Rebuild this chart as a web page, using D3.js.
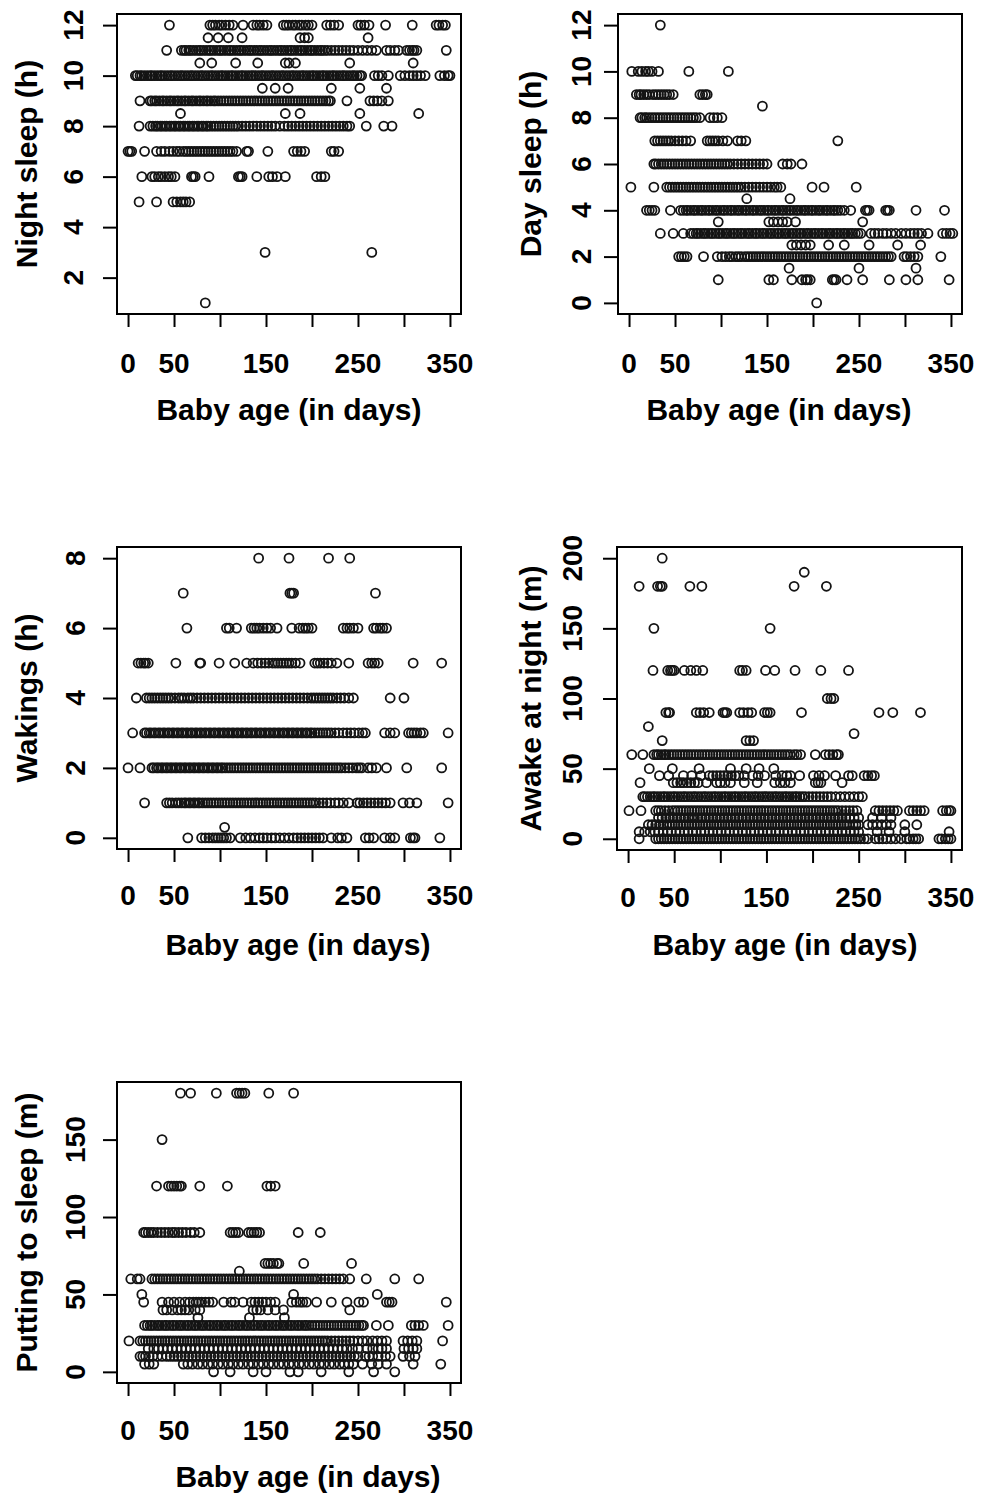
<!DOCTYPE html>
<html>
<head>
<meta charset="utf-8">
<script src="https://cdn.jsdelivr.net/npm/d3@7"></script>
<style>
  body { margin: 0; background: #fff; }
  svg { display: block; }
  text { font-family: "Liberation Sans", Arial, sans-serif; font-weight: bold; fill: #000; }
</style>
</head>
<body>
<svg id="chart" width="990" height="1493"></svg>
<script>
// x axis (shared by all five panels)
const ageTicks = [0, 50, 100, 150, 200, 250, 300, 350];
const ageLabels = [0, 50, 150, 250, 350];

const nightTicks = [2, 4, 6, 8, 10, 12];
const dayTicks = [0, 2, 4, 6, 8, 10, 12];
const wakingTicks = [0, 2, 4, 6, 8];
const awakeTicks = [0, 50, 100, 150, 200];
const puttingTicks = [0, 50, 100, 150];

// each row: [value, ages (days) of the babies that have that value]
const nightSleep = [
  [12, [45, 89, 92, 95, 99, 102, 106, 110, 114, 125, 136, 140, 143, 147, 151, 169, 172, 175, 179, 182, 186, 189, 193, 196, 200, 216, 220, 224, 229, 250, 253, 257, 262, 280, 309, 335, 338, 342, 345]],
  [11.5, [87, 98, 109, 124, 187, 192, 196, 261]],
  [11, [42, 58, 61, 63, 66, 68, 71, 74, 77, 79, 82, 85, 88, 90, 93, 96, 99, 101, 104, 107, 110, 112, 115, 118, 121, 123, 126, 129, 132, 134, 137, 140, 143, 145, 148, 151, 154, 156, 159, 162, 165, 167, 170, 173, 176, 178, 181, 184, 187, 189, 192, 195, 198, 200, 203, 206, 209, 211, 214, 217, 221, 225, 229, 233, 237, 241, 245, 250, 255, 260, 265, 270, 281, 285, 290, 294, 303, 306, 309, 311, 314, 346]],
  [10.5, [78, 91, 117, 141, 171, 175, 182, 241, 310]],
  [10, [8, 10, 13, 15, 18, 21, 24, 26, 29, 32, 35, 37, 40, 43, 46, 48, 51, 54, 57, 59, 62, 65, 68, 70, 73, 76, 79, 81, 84, 87, 90, 92, 95, 98, 101, 103, 106, 109, 112, 114, 117, 120, 123, 125, 128, 131, 134, 136, 139, 142, 145, 147, 150, 153, 156, 158, 161, 164, 167, 169, 172, 175, 178, 180, 183, 186, 189, 191, 194, 197, 200, 202, 205, 208, 211, 213, 216, 219, 222, 224, 227, 230, 233, 235, 238, 241, 244, 246, 249, 252, 254, 268, 272, 276, 283, 296, 301, 306, 310, 314, 318, 323, 339, 344, 348, 350]],
  [9.5, [146, 160, 174, 221, 252, 281]],
  [9, [13, 24, 26, 29, 31, 34, 37, 39, 42, 45, 47, 50, 53, 55, 58, 61, 63, 66, 69, 71, 74, 77, 79, 82, 85, 87, 90, 93, 95, 98, 101, 104, 107, 110, 113, 116, 119, 122, 125, 128, 131, 134, 137, 140, 143, 146, 149, 152, 155, 158, 161, 164, 167, 170, 173, 176, 179, 182, 185, 188, 191, 194, 197, 200, 203, 206, 209, 212, 215, 218, 220, 238, 263, 267, 271, 276, 283]],
  [8.5, [57, 171, 187, 252, 316]],
  [8, [12, 24, 27, 30, 32, 35, 37, 40, 42, 45, 47, 50, 52, 55, 57, 60, 62, 65, 67, 70, 72, 75, 77, 80, 82, 85, 87, 90, 93, 96, 99, 102, 105, 108, 111, 114, 117, 120, 124, 128, 132, 136, 140, 144, 148, 152, 156, 160, 165, 170, 174, 178, 182, 186, 190, 194, 198, 202, 206, 210, 214, 218, 222, 226, 230, 234, 238, 241, 259, 278, 287]],
  [7, [0, 2, 4, 18, 31, 36, 40, 45, 49, 53, 56, 60, 63, 66, 69, 72, 75, 78, 81, 84, 87, 90, 93, 96, 99, 102, 105, 108, 111, 114, 118, 129, 131, 152, 180, 184, 188, 192, 221, 224, 229]],
  [6, [15, 26, 29, 33, 36, 40, 44, 47, 51, 69, 71, 73, 88, 120, 122, 124, 140, 153, 157, 162, 171, 205, 210, 214]],
  [5, [12, 31, 49, 53, 57, 60, 63, 67]],
  [3, [149, 265]],
  [1, [84]]
];

const daySleep = [
  [12, [34]],
  [10, [3, 10, 14, 18, 21, 25, 32, 65, 108]],
  [9, [8, 11, 13, 16, 19, 22, 26, 29, 32, 35, 38, 41, 44, 48, 77, 80, 83, 85]],
  [8.5, [145]],
  [8, [12, 14, 17, 19, 22, 25, 28, 31, 34, 37, 40, 43, 46, 49, 52, 55, 58, 61, 64, 67, 70, 73, 77, 88, 92, 96, 101]],
  [7, [28, 31, 34, 37, 40, 43, 46, 50, 54, 58, 62, 67, 85, 88, 91, 94, 97, 102, 107, 118, 122, 127, 227]],
  [6, [27, 29, 32, 35, 38, 41, 44, 47, 50, 53, 56, 59, 62, 65, 68, 71, 74, 77, 80, 83, 86, 89, 92, 95, 98, 101, 104, 107, 110, 114, 118, 122, 126, 130, 134, 138, 142, 146, 150, 167, 172, 176, 188]],
  [5, [2, 27, 41, 44, 47, 50, 53, 56, 59, 62, 65, 68, 71, 74, 77, 80, 83, 86, 89, 92, 95, 98, 101, 104, 107, 110, 113, 116, 119, 122, 126, 130, 134, 138, 142, 146, 150, 154, 158, 161, 165, 199, 212, 247]],
  [4.5, [128, 175]],
  [4, [19, 22, 25, 28, 45, 56, 59, 62, 64, 67, 70, 72, 75, 78, 80, 83, 86, 88, 91, 94, 96, 99, 102, 104, 107, 110, 112, 115, 118, 120, 123, 126, 128, 131, 134, 136, 139, 142, 144, 147, 150, 152, 155, 158, 160, 163, 166, 168, 171, 174, 176, 179, 182, 184, 187, 190, 192, 195, 198, 200, 203, 206, 208, 211, 214, 216, 219, 222, 224, 227, 230, 234, 241, 257, 259, 261, 279, 281, 283, 312, 343]],
  [3.5, [97, 152, 157, 162, 167, 172, 181, 254]],
  [3, [34, 48, 59, 67, 70, 73, 75, 78, 81, 83, 86, 89, 91, 94, 97, 99, 102, 105, 107, 110, 113, 115, 118, 121, 123, 126, 129, 131, 134, 137, 139, 142, 145, 147, 150, 153, 155, 158, 161, 163, 166, 169, 171, 174, 177, 179, 182, 185, 187, 190, 193, 195, 198, 201, 203, 206, 209, 211, 214, 217, 219, 222, 225, 227, 230, 233, 235, 238, 241, 243, 246, 249, 252, 263, 267, 271, 276, 280, 285, 290, 296, 301, 306, 310, 314, 318, 325, 341, 345, 349, 352]],
  [2.5, [177, 182, 187, 192, 197, 217, 234, 261, 292, 317]],
  [2, [54, 57, 60, 63, 81, 96, 101, 105, 109, 112, 116, 119, 122, 126, 129, 132, 135, 138, 141, 144, 147, 150, 153, 156, 159, 162, 165, 168, 171, 174, 177, 180, 183, 186, 189, 192, 195, 198, 201, 204, 207, 210, 213, 216, 219, 222, 225, 228, 231, 234, 237, 240, 243, 246, 249, 252, 255, 258, 261, 264, 267, 270, 273, 276, 279, 282, 285, 299, 302, 306, 310, 314, 339]],
  [1.5, [174, 250, 312]],
  [1, [97, 152, 157, 177, 188, 192, 194, 197, 221, 223, 225, 237, 254, 283, 301, 314, 348]],
  [0, [204]]
];

const wakings = [
  [8, [142, 175, 218, 241]],
  [7, [60, 176, 178, 180, 269]],
  [6, [64, 107, 110, 118, 134, 137, 140, 143, 147, 151, 155, 162, 178, 186, 190, 193, 196, 200, 234, 238, 241, 245, 250, 267, 270, 274, 277, 281]],
  [5, [11, 14, 17, 19, 22, 52, 78, 79, 99, 116, 129, 136, 141, 145, 149, 153, 157, 160, 163, 166, 169, 172, 175, 178, 182, 187, 203, 206, 209, 213, 217, 221, 227, 240, 261, 265, 268, 272, 310, 341]],
  [4, [9, 20, 23, 26, 29, 32, 35, 38, 41, 44, 47, 51, 55, 58, 61, 65, 68, 71, 75, 79, 83, 87, 91, 95, 99, 103, 107, 111, 115, 119, 123, 127, 131, 135, 139, 143, 147, 151, 155, 159, 163, 167, 171, 175, 179, 183, 187, 191, 195, 199, 202, 205, 208, 211, 214, 217, 220, 223, 227, 231, 235, 240, 245, 285, 300]],
  [3, [5, 18, 20, 23, 25, 28, 30, 33, 35, 38, 40, 43, 45, 48, 50, 53, 55, 58, 60, 63, 65, 68, 70, 73, 75, 78, 80, 83, 85, 88, 90, 93, 95, 98, 100, 103, 105, 108, 110, 113, 115, 118, 120, 123, 125, 128, 130, 133, 135, 138, 140, 143, 145, 148, 150, 153, 155, 158, 160, 163, 165, 168, 170, 173, 175, 178, 180, 183, 185, 188, 190, 193, 195, 198, 200, 203, 206, 209, 212, 215, 218, 221, 225, 229, 234, 238, 242, 246, 251, 255, 258, 279, 285, 290, 305, 308, 311, 314, 318, 321, 348]],
  [2, [0, 13, 26, 28, 31, 33, 36, 38, 41, 43, 46, 48, 51, 53, 56, 58, 61, 63, 66, 68, 71, 73, 76, 78, 81, 83, 86, 88, 91, 93, 96, 98, 101, 103, 106, 109, 112, 115, 118, 121, 124, 127, 130, 133, 136, 139, 142, 145, 148, 151, 154, 157, 160, 163, 166, 169, 172, 175, 178, 181, 184, 187, 190, 193, 196, 199, 202, 205, 208, 211, 214, 217, 220, 223, 226, 229, 232, 236, 240, 244, 248, 251, 254, 261, 265, 270, 281, 303, 341]],
  [1, [18, 42, 45, 48, 52, 55, 58, 61, 63, 66, 68, 71, 73, 76, 78, 81, 84, 87, 90, 93, 96, 99, 102, 105, 108, 111, 114, 117, 120, 123, 126, 129, 132, 135, 138, 141, 144, 147, 150, 153, 156, 159, 162, 165, 168, 171, 174, 177, 180, 183, 186, 189, 192, 195, 198, 201, 204, 208, 212, 216, 220, 225, 229, 234, 240, 249, 252, 256, 260, 264, 268, 272, 276, 280, 285, 299, 306, 314, 348]],
  [0.3, [105]],
  [0, [65, 80, 84, 88, 92, 95, 98, 101, 104, 107, 111, 122, 128, 133, 138, 143, 147, 151, 156, 160, 165, 170, 175, 180, 184, 188, 192, 196, 200, 204, 208, 212, 221, 228, 232, 238, 258, 262, 267, 279, 285, 290, 307, 310, 312, 339]]
];

const awakeNight = [
  [200, [37]],
  [190, [191]],
  [180, [12, 32, 35, 37, 67, 80, 180, 215]],
  [150, [28, 154]],
  [120, [27, 43, 46, 48, 50, 61, 68, 74, 81, 121, 124, 128, 149, 159, 181, 209, 239]],
  [100, [216, 220, 223]],
  [90, [41, 44, 45, 74, 78, 82, 88, 103, 105, 107, 121, 125, 130, 134, 148, 151, 154, 188, 272, 287, 317]],
  [80, [22]],
  [75, [245]],
  [70, [37, 128, 132, 136]],
  [60, [4, 16, 28, 31, 33, 36, 39, 41, 44, 47, 50, 53, 56, 59, 62, 65, 68, 71, 74, 77, 80, 83, 86, 89, 92, 95, 98, 101, 104, 107, 110, 113, 116, 119, 122, 125, 128, 131, 134, 137, 140, 143, 146, 149, 152, 155, 158, 161, 164, 167, 170, 173, 176, 180, 183, 187, 203, 214, 218, 222, 226, 228]],
  [50, [23, 48, 77, 111, 128, 142, 158]],
  [45, [34, 44, 60, 69, 79, 88, 92, 96, 100, 104, 108, 112, 116, 120, 126, 135, 141, 148, 160, 167, 172, 176, 186, 201, 207, 213, 225, 239, 243, 256, 260, 264, 267]],
  [40, [13, 49, 53, 57, 60, 64, 68, 72, 76, 85, 96, 100, 105, 111, 126, 140, 159, 165, 170, 176, 203, 206, 209, 232]],
  [30, [16, 18, 21, 24, 27, 29, 32, 35, 38, 40, 43, 46, 49, 51, 54, 57, 60, 62, 65, 68, 71, 73, 76, 79, 82, 84, 87, 90, 93, 95, 98, 101, 104, 106, 109, 112, 115, 117, 120, 123, 126, 128, 131, 134, 137, 139, 142, 145, 148, 150, 153, 156, 159, 161, 164, 167, 170, 172, 175, 178, 181, 183, 186, 189, 192, 196, 200, 204, 208, 212, 216, 220, 225, 230, 235, 240, 245, 250, 254]],
  [20, [1, 14, 30, 33, 36, 40, 44, 48, 51, 54, 57, 60, 63, 66, 69, 72, 75, 78, 81, 84, 87, 90, 93, 96, 99, 102, 105, 108, 111, 114, 117, 120, 123, 126, 129, 132, 135, 138, 141, 144, 147, 150, 153, 156, 159, 162, 165, 168, 171, 174, 177, 180, 183, 186, 189, 192, 195, 198, 201, 204, 207, 210, 213, 216, 219, 222, 225, 228, 232, 236, 240, 244, 248, 268, 272, 276, 280, 284, 288, 292, 305, 309, 313, 317, 321, 341, 345, 348, 350]],
  [15, [33, 37, 41, 45, 49, 53, 57, 61, 65, 69, 72, 76, 80, 84, 88, 92, 96, 100, 104, 108, 112, 116, 120, 124, 128, 132, 136, 140, 144, 148, 152, 156, 160, 164, 168, 172, 176, 180, 184, 188, 192, 196, 200, 204, 208, 212, 216, 220, 224, 228, 232, 236, 240, 245, 250, 265, 275, 285]],
  [10, [22, 26, 30, 34, 38, 42, 45, 48, 51, 54, 57, 60, 63, 66, 69, 72, 75, 78, 81, 84, 87, 90, 93, 96, 99, 102, 105, 108, 111, 114, 117, 120, 123, 126, 129, 132, 135, 138, 141, 144, 147, 150, 153, 156, 159, 162, 165, 168, 171, 174, 177, 180, 183, 186, 189, 192, 195, 198, 201, 204, 207, 210, 213, 216, 219, 222, 225, 228, 231, 234, 237, 240, 244, 247, 250, 260, 265, 270, 275, 280, 285, 300, 313]],
  [5, [12, 18, 24, 29, 33, 38, 43, 47, 52, 56, 61, 65, 70, 74, 79, 83, 88, 92, 97, 101, 106, 110, 115, 119, 124, 128, 133, 137, 142, 146, 151, 155, 160, 164, 169, 173, 178, 182, 187, 191, 196, 200, 205, 209, 214, 218, 223, 227, 232, 236, 241, 245, 250, 270, 283, 300, 348]],
  [0, [12, 30, 33, 36, 39, 42, 45, 48, 51, 54, 57, 60, 63, 66, 69, 72, 75, 78, 81, 84, 87, 90, 93, 96, 99, 102, 105, 108, 111, 114, 117, 120, 123, 126, 129, 132, 135, 138, 141, 144, 147, 150, 153, 156, 159, 162, 165, 168, 171, 174, 177, 180, 183, 186, 189, 192, 195, 198, 201, 204, 207, 210, 213, 216, 219, 222, 225, 228, 231, 234, 237, 240, 243, 246, 249, 252, 256, 260, 268, 272, 276, 280, 285, 290, 296, 302, 305, 309, 312, 315, 337, 340, 344, 347, 350]]
];

const puttingToSleep = [
  [180, [57, 68, 96, 118, 121, 124, 127, 153, 180]],
  [150, [37]],
  [120, [31, 44, 47, 50, 53, 56, 58, 78, 108, 151, 155, 160]],
  [90, [17, 19, 22, 25, 28, 32, 36, 40, 44, 48, 51, 55, 59, 63, 68, 72, 78, 111, 114, 117, 120, 131, 134, 137, 140, 143, 185, 209]],
  [70, [149, 152, 155, 158, 162, 164, 191, 243]],
  [65, [121]],
  [60, [3, 10, 13, 26, 29, 32, 35, 38, 41, 44, 47, 50, 53, 56, 59, 62, 65, 68, 71, 74, 77, 80, 83, 86, 89, 92, 95, 98, 101, 104, 107, 110, 113, 116, 119, 122, 125, 128, 131, 134, 137, 140, 143, 146, 149, 152, 155, 158, 161, 164, 167, 170, 173, 176, 179, 182, 185, 188, 191, 194, 197, 200, 203, 206, 210, 214, 218, 222, 226, 230, 234, 241, 259, 290, 316]],
  [50, [15, 180, 271]],
  [45, [17, 37, 44, 50, 56, 62, 67, 71, 74, 77, 80, 84, 88, 92, 104, 112, 116, 125, 134, 138, 142, 146, 150, 155, 160, 178, 183, 187, 190, 194, 205, 221, 238, 251, 256, 281, 284, 287, 346]],
  [40, [38, 42, 48, 54, 58, 62, 66, 73, 78, 136, 140, 144, 152, 160, 169, 241]],
  [35, [76, 132, 170]],
  [30, [18, 21, 24, 26, 29, 32, 34, 37, 40, 42, 45, 48, 50, 53, 56, 58, 61, 64, 66, 69, 72, 74, 77, 80, 82, 85, 88, 90, 93, 96, 98, 101, 104, 106, 109, 112, 114, 117, 120, 122, 125, 128, 130, 133, 136, 138, 141, 144, 146, 149, 152, 154, 157, 160, 162, 165, 168, 170, 173, 176, 178, 181, 184, 186, 189, 192, 194, 197, 200, 203, 206, 209, 212, 215, 218, 221, 224, 227, 230, 233, 236, 239, 242, 245, 248, 251, 254, 256, 270, 283, 308, 312, 316, 321, 348]],
  [20, [1, 13, 16, 19, 22, 25, 28, 31, 34, 37, 40, 43, 46, 49, 52, 55, 58, 61, 64, 67, 70, 73, 76, 79, 82, 85, 88, 91, 94, 97, 100, 103, 106, 109, 112, 115, 118, 121, 124, 127, 130, 133, 136, 139, 142, 145, 148, 151, 154, 157, 160, 163, 166, 169, 172, 175, 178, 181, 184, 187, 190, 193, 196, 199, 202, 205, 208, 211, 214, 217, 221, 225, 229, 233, 237, 241, 245, 250, 255, 260, 266, 271, 276, 281, 299, 304, 309, 314, 342]],
  [15, [22, 28, 33, 38, 43, 48, 53, 58, 63, 68, 73, 78, 83, 88, 93, 98, 103, 108, 113, 118, 123, 128, 133, 138, 143, 148, 153, 158, 163, 168, 173, 178, 183, 188, 193, 198, 203, 208, 213, 218, 223, 228, 233, 238, 244, 250, 260, 266, 272, 276, 281, 300, 305, 310, 314]],
  [10, [13, 16, 19, 23, 27, 32, 37, 42, 46, 50, 54, 58, 62, 66, 70, 74, 78, 82, 86, 90, 94, 98, 102, 106, 110, 114, 118, 122, 126, 130, 134, 138, 142, 146, 150, 154, 158, 162, 166, 170, 174, 178, 182, 186, 190, 194, 198, 202, 206, 210, 214, 218, 222, 226, 230, 234, 238, 242, 246, 250, 258, 262, 266, 272, 280, 285, 299, 306, 312]],
  [5, [18, 23, 28, 60, 65, 70, 76, 81, 87, 92, 98, 103, 109, 114, 120, 125, 131, 136, 142, 147, 153, 158, 164, 169, 175, 180, 186, 191, 197, 202, 208, 213, 219, 224, 230, 235, 240, 245, 255, 265, 272, 281, 310, 340]],
  [0, [93, 111, 136, 150, 176, 185, 210, 240, 267, 290]]
];

const svg = d3.select("#chart");

function drawPanel(p) {
  const g = svg.append("g");
  const x = d3.scaleLinear().domain([-12, 362]).range([p.left, p.right]);
  const y = d3.scaleLinear().domain(p.yDomain).range([p.bottom, p.top]);

  const pts = p.rows.flatMap(([v, ages]) => ages.map(a => ({ a, v })));

  g.append("g")
    .selectAll("circle")
    .data(pts)
    .join("circle")
    .attr("cx", d => x(d.a))
    .attr("cy", d => y(d.v))
    .attr("r", 4.5)
    .attr("fill", "none")
    .attr("stroke", "#141414")
    .attr("stroke-width", 1.8);

  // plot frame
  g.append("rect")
    .attr("x", p.left).attr("y", p.top)
    .attr("width", p.right - p.left).attr("height", p.bottom - p.top)
    .attr("fill", "none").attr("stroke", "#000").attr("stroke-width", 2);

  // x axis ticks (R style, no axis line)
  const xa = g.append("g")
    .attr("transform", `translate(0,${p.bottom})`)
    .call(d3.axisBottom(x).tickValues(ageTicks).tickSize(13).tickFormat(""));
  xa.select(".domain").remove();
  xa.selectAll(".tick line").attr("stroke", "#000").attr("stroke-width", 2);

  g.selectAll(".xlab")
    .data(ageLabels)
    .join("text")
    .attr("x", d => x(d))
    .attr("y", p.bottom + p.xLabDy)
    .attr("text-anchor", "middle")
    .attr("font-size", 28)
    .text(d => d);

  const ya = g.append("g")
    .attr("transform", `translate(${p.left},0)`)
    .call(d3.axisLeft(y).tickValues(p.yTicks).tickSize(14).tickFormat(""));
  ya.select(".domain").remove();
  ya.selectAll(".tick line").attr("stroke", "#000").attr("stroke-width", 2);

  g.selectAll(".ylab")
    .data(p.yTicks)
    .join("text")
    .attr("transform", d => `translate(${p.left - p.yLabOff},${y(d)}) rotate(-90)`)
    .attr("dy", "0.36em")
    .attr("text-anchor", "middle")
    .attr("font-size", 28)
    .text(d => d);

  // axis titles
  g.append("text")
    .attr("x", p.xTitleX)
    .attr("y", p.bottom + p.xTitleDy)
    .attr("text-anchor", "middle")
    .attr("font-size", 30)
    .text("Baby age (in days)");

  g.append("text")
    .attr("transform", `translate(${p.yTitleX},${(p.top + p.bottom) / 2}) rotate(-90)`)
    .attr("text-anchor", "middle")
    .attr("font-size", 30)
    .text(p.yTitle);
}

const panels = [
  { rows: nightSleep, yTicks: nightTicks, yDomain: [0.56, 12.44], yTitle: "Night sleep (h)",
    left: 117, right: 461, top: 14, bottom: 314, xLabDy: 59, xTitleDy: 106, xTitleX: 289, yLabOff: 44, yTitleX: 37 },
  { rows: daySleep, yTicks: dayTicks, yDomain: [-0.48, 12.48], yTitle: "Day sleep (h)",
    left: 618, right: 962, top: 14, bottom: 314, xLabDy: 59, xTitleDy: 106, xTitleX: 779, yLabOff: 37, yTitleX: 541 },
  { rows: wakings, yTicks: wakingTicks, yDomain: [-0.32, 8.32], yTitle: "Wakings (h)",
    left: 117, right: 461, top: 547, bottom: 849, xLabDy: 56, xTitleDy: 106, xTitleX: 298, yLabOff: 42, yTitleX: 37 },
  { rows: awakeNight, yTicks: awakeTicks, yDomain: [-8, 208], yTitle: "Awake at night (m)",
    left: 617, right: 962, top: 547, bottom: 850, xLabDy: 57, xTitleDy: 105, xTitleX: 785, yLabOff: 45, yTitleX: 541 },
  { rows: puttingToSleep, yTicks: puttingTicks, yDomain: [-7.2, 187.2], yTitle: "Putting to sleep (m)",
    left: 117, right: 461, top: 1082, bottom: 1383, xLabDy: 57, xTitleDy: 104, xTitleX: 308, yLabOff: 42, yTitleX: 37 }
];

panels.forEach(drawPanel);
</script>
</body>
</html>
